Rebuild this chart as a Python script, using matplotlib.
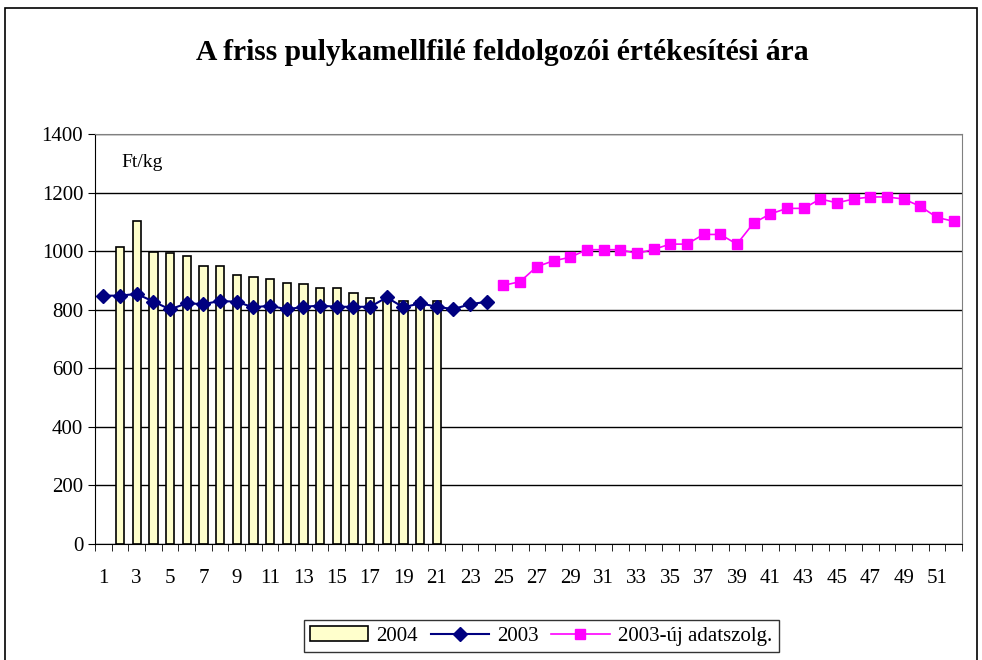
import numpy as np
import matplotlib.pyplot as plt
from matplotlib.patches import Rectangle

weeks_2004 = list(range(2, 22))
price_2004 = [1015, 1104, 996, 995, 983, 950, 950, 918, 913, 906,
              892, 887, 874, 874, 856, 841, 838, 831, 831, 831]

weeks_2003 = list(range(1, 25))
price_2003 = [848, 848, 854, 828, 801, 822, 819, 830, 827, 808,
              814, 801, 810, 814, 810, 810, 810, 842, 808, 822,
              810, 802, 819, 827]

weeks_new = list(range(25, 53))
price_new = [883, 896, 947, 967, 979, 1005, 1005, 1005, 992, 1006,
             1024, 1024, 1057, 1057, 1024, 1096, 1127, 1146, 1146, 1178,
             1165, 1178, 1185, 1185, 1178, 1153, 1115, 1102]

plt.rcParams['font.family'] = ['Liberation Serif', 'DejaVu Serif']

fig = plt.figure(figsize=(9.82, 6.60), dpi=100)
ax = fig.add_axes([95/982, 116/660, 867/982, 410/660])

b = ax.bar(weeks_2004, price_2004, width=0.5, color='#FFFFCC', edgecolor='black',
           linewidth=1.2, label='2004', zorder=2)
l1, = ax.plot(weeks_2003, price_2003, color='#000080', marker='D', markersize=7.5,
              linewidth=1.5, label='2003', zorder=3)
l2, = ax.plot(weeks_new, price_new, color='#FF00FF', marker='s', markersize=7,
              linewidth=1.2, label='2003-új adatszolg.', zorder=3)

ax.set_xlim(0.5, 52.5)
ax.set_ylim(0, 1400)
ax.set_yticks(range(0, 1401, 200))
ax.yaxis.grid(True, color='black', linewidth=1)
ax.set_axisbelow(True)

ax.set_xticks(range(1, 53, 2))
ax.set_xticks(np.arange(0.5, 53, 1), minor=True)
ax.tick_params(axis='x', which='major', length=0, labelsize=15, pad=18)
ax.tick_params(axis='x', which='minor', length=5, direction='out', color='black')
ax.tick_params(axis='y', length=5, direction='out', labelsize=15, color='black')

for side in ['top', 'right']:
    ax.spines[side].set_color('#808080')
for side in ['left', 'bottom']:
    ax.spines[side].set_color('black')

ax.text(0.03, 0.93, 'Ft/kg', transform=ax.transAxes, fontsize=14, va='center')

fig.text(502/982, 1 - 52/660, 'A friss pulykamellfilé feldolgozói értékesítési ára',
         ha='center', va='center', fontsize=21.3, fontweight='bold')

leg = fig.legend([b, l1, l2], ['2004', '2003', '2003-új adatszolg.'],
                 loc='center', bbox_to_anchor=(541/982, 1 - 636/660), ncol=3,
                 fontsize=15, frameon=True, fancybox=False, edgecolor='black',
                 handlelength=2.8, handletextpad=0.4, columnspacing=0.6,
                 borderpad=0.3)
leg.get_frame().set_linewidth(1)

fig.patches.append(Rectangle((5/982, -0.1), 972/982, 1.1 - 8/660,
                             transform=fig.transFigure, fill=False,
                             edgecolor='black', linewidth=1.2))

fig.savefig('out.png', dpi=100)
plt.close()
